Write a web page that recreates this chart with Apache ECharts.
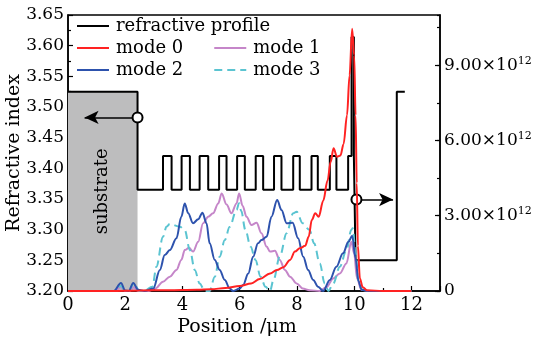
<!DOCTYPE html>
<html><head><meta charset="utf-8">
<script src="https://cdn.jsdelivr.net/npm/echarts@6/dist/echarts.min.js"></script>
<style>html,body{margin:0;padding:0;background:#fff}#c{width:536px;height:342px}</style>
</head><body><div id="c"></div>
<script>
const FONT = 'DejaVu Serif';
// refractive index profile [position um, index]
const profile = [[0,3.525],[2.43,3.525],[2.43,3.365],
 [3.32,3.365],[3.32,3.42],[3.62,3.42],[3.62,3.365],
 [3.97,3.365],[3.97,3.42],[4.26,3.42],[4.26,3.365],
 [4.60,3.365],[4.60,3.42],[4.90,3.42],[4.90,3.365],
 [5.28,3.365],[5.28,3.42],[5.54,3.42],[5.54,3.365],
 [5.91,3.365],[5.91,3.42],[6.18,3.42],[6.18,3.365],
 [6.56,3.365],[6.56,3.42],[6.82,3.42],[6.82,3.365],
 [7.20,3.365],[7.20,3.42],[7.46,3.42],[7.46,3.365],
 [7.87,3.365],[7.87,3.42],[8.10,3.42],[8.10,3.365],
 [8.51,3.365],[8.51,3.42],[8.73,3.42],[8.73,3.365],
 [9.15,3.365],[9.15,3.42],[9.38,3.42],[9.38,3.365],
 [9.79,3.365],[9.79,3.42],[9.91,3.42],[9.91,3.614],[9.99,3.614],[9.99,3.42],[10.05,3.42],[10.05,3.25],
 [11.49,3.25],[11.49,3.525],[11.77,3.525]];
// mode intensity (units of 1e12)
const mode0 = [[0,0],[1.5,0],[2.5,0.02],[3.5,0.03],[4.5,0.05],[5.0,0.07],[5.5,0.12],[6.0,0.2],[6.4,0.3],[6.7,0.48],[7.06,0.7],[7.3,0.84],[7.53,0.95],[7.76,1.24],[7.93,1.57],[8.1,1.7],[8.29,1.8],[8.41,2.16],[8.52,2.83],[8.64,3.1],[8.76,2.96],[8.92,3.6],[9.07,4.4],[9.18,5.15],[9.28,5.69],[9.4,5.35],[9.52,5.4],[9.63,5.85],[9.75,7.0],[9.84,8.6],[9.93,10.45],[10.0,9.4],[10.05,7.0],[10.09,4.3],[10.13,1.8],[10.2,0.5],[10.3,0.15],[10.45,0.03],[11,0],[12,0]];
const mode1 = [[0,0],[1.6,0],[1.85,0.15],[2.0,0],[2.15,0],[2.3,0.15],[2.45,0],[2.8,0],[3.05,0.1],[3.32,0.37],[3.56,0.57],[3.79,0.84],[3.96,1.24],[4.08,1.63],[4.23,1.72],[4.37,1.57],[4.55,1.96],[4.72,2.7],[4.9,2.96],[5.07,3.1],[5.25,3.49],[5.37,3.89],[5.54,3.45],[5.71,3.1],[5.89,3.49],[5.98,3.89],[6.1,3.4],[6.24,2.96],[6.41,2.63],[6.59,2.72],[6.76,2.3],[6.94,1.77],[7.06,1.57],[7.23,1.6],[7.4,1.24],[7.58,0.84],[7.76,0.57],[7.99,0.3],[8.2,0.1],[8.44,0.03],[8.8,0],[9.03,0.15],[9.27,0.5],[9.5,0.7],[9.73,1.1],[9.9,1.96],[10.0,1.5],[10.1,0.5],[10.25,0.05],[10.5,0],[12,0]];
const mode2 = [[0,0],[1.6,0],[1.85,0.32],[2.0,0.02],[2.12,0],[2.28,0.32],[2.45,0.05],[2.68,0],[2.98,0.1],[3.21,0.84],[3.38,1.43],[3.56,1.63],[3.79,2.1],[3.96,2.96],[4.08,3.49],[4.2,3.1],[4.37,2.7],[4.55,2.86],[4.7,3.12],[4.84,2.7],[4.95,1.9],[5.13,1.24],[5.3,0.84],[5.48,0.44],[5.65,0.1],[5.77,0],[6.0,0.1],[6.12,0.24],[6.3,0.7],[6.47,1.37],[6.64,1.9],[6.76,2.03],[6.94,2.16],[7.11,2.96],[7.31,3.63],[7.46,3.23],[7.64,2.7],[7.85,2.72],[8.04,2.1],[8.22,1.37],[8.39,0.84],[8.57,0.44],[8.74,0.17],[8.92,0],[9.15,0.44],[9.38,0.97],[9.61,1.5],[9.8,1.96],[9.93,2.2],[10.05,1.3],[10.15,0.4],[10.26,0.05],[10.5,0],[12,0]];
const mode3 = [[0,0],[1.6,0],[1.85,0.2],[2.0,0],[2.12,0],[2.3,0.3],[2.5,0],[2.65,0],[2.95,0.17],[3.09,0.97],[3.32,2.16],[3.44,2.56],[3.56,2.67],[3.91,2.56],[4.08,2.43],[4.26,1.63],[4.43,0.84],[4.6,0.3],[4.78,0],[4.95,0],[5.13,0.57],[5.3,1.37],[5.48,2.03],[5.65,2.56],[5.89,3.23],[5.98,3.5],[6.05,3.2],[6.2,2.43],[6.38,1.77],[6.55,1.24],[6.73,0.57],[6.9,0.17],[7.06,0],[7.18,0.44],[7.4,1.37],[7.64,2.3],[7.87,3.1],[7.99,3.16],[8.2,2.7],[8.44,2.43],[8.6,1.9],[8.8,1.1],[8.97,0.3],[9.1,0],[9.27,0.3],[9.5,0.97],[9.73,1.63],[9.9,2.43],[9.95,2.5],[10.05,1.5],[10.15,0.4],[10.3,0.05],[10.5,0],[12,0]];
const substrate = {x0: 0, x1: 2.43, n0: 3.2, n1: 3.525};
const arrowLeft = {from: [2.43, 3.483], to: [0.58, 3.483]};
const arrowRight = {from: [10.08, 3.349], to: [11.36, 3.349]};

const chart = echarts.init(document.getElementById('c'));
const txt = {fontFamily: FONT, color: '#000'};
const modeLine = (name, data, color, type, z) => ({
  name, type: 'line', data, yAxisIndex: 1, symbol: 'none', smooth: 0.35, smoothMonotone: 'x', z,
  lineStyle: {color, width: 2, type}, itemStyle: {color}
});
const legendBase = {left: 76, itemWidth: 32, itemHeight: 14, itemGap: 30, padding: 0,
  itemStyle: {opacity: 0},
  textStyle: Object.assign({fontSize: 18, padding: [0,0,0,2]}, txt)};
chart.setOption({
  animation: false,
  grid: {left: 68, right: 96, top: 15, bottom: 51, outerBoundsMode: 'none', containLabel: false,
    show: true, borderColor: '#000', borderWidth: 1.5, backgroundColor: 'transparent'},
  legend: [
    Object.assign({}, legendBase, {top: 17, data: ['refractive profile']}),
    Object.assign({}, legendBase, {top: 39, data: ['mode 0', 'mode 1']}),
    Object.assign({}, legendBase, {top: 61, data: ['mode 2', 'mode 3']})
  ],
  xAxis: {type: 'value', min: 0, max: 13, interval: 2,
    name: 'Position /μm', nameLocation: 'middle', nameGap: 27, nameMoveOverlap: false,
    nameTextStyle: Object.assign({fontSize: 19, padding: [0, 34, 0, 0]}, txt),
    axisLine: {lineStyle: {color: '#000', width: 1.5}},
    axisTick: {inside: true, length: 5, lineStyle: {color: '#000', width: 1.2}},
    minorTick: {show: true, splitNumber: 2, length: 3, lineStyle: {color: '#000', width: 1.2}},
    splitLine: {show: false},
    axisLabel: Object.assign({fontSize: 18, margin: 5, showMaxLabel: false}, txt)
  },
  yAxis: [
    {type: 'value', min: 3.2, max: 3.65, interval: 0.05, position: 'left',
      name: 'Refractive index', nameLocation: 'middle', nameGap: 44, nameMoveOverlap: false,
      nameTextStyle: Object.assign({fontSize: 19}, txt),
      axisLine: {lineStyle: {color: '#000', width: 1.5}},
      axisTick: {inside: true, length: 5, lineStyle: {color: '#000', width: 1.2}},
      minorTick: {show: true, splitNumber: 2, length: 3, lineStyle: {color: '#000', width: 1.2}},
      splitLine: {show: false},
      axisLabel: Object.assign({fontSize: 17, margin: 4, formatter: v => v.toFixed(2)}, txt)
    },
    {type: 'value', min: 0, max: 11, interval: 3, position: 'right',
      axisLine: {show: true, lineStyle: {color: '#000', width: 1.5}},
      axisTick: {inside: true, length: 5, lineStyle: {color: '#000', width: 1.2}},
      splitLine: {show: false},
      axisLabel: Object.assign({fontSize: 17, margin: 4, showMaxLabel: false,
        formatter: v => v === 0 ? '0' : (v % 3 === 0 ? '{a|' + v.toFixed(2) + '×10}{b|12}' : ''),
        rich: {a: Object.assign({fontSize: 17}, txt), b: Object.assign({fontSize: 11, padding: [0,0,9,0]}, txt)}}, txt)
    },
    {type: 'value', min: 0, max: 11, interval: 1.5, position: 'right',
      axisLine: {show: false}, axisLabel: {show: false}, splitLine: {show: false},
      axisTick: {inside: true, length: 3, lineStyle: {color: '#000', width: 1.2}}
    }
  ],
  series: [
    {name: 'refractive profile', type: 'line', data: profile, yAxisIndex: 0, symbol: 'none', z: 1,
      lineStyle: {color: '#000', width: 2}, itemStyle: {color: '#000'},
      markArea: {silent: true, itemStyle: {color: '#bdbdbe'},
        label: Object.assign({show: true, position: 'inside', rotate: 90, fontSize: 18}, txt),
        data: [[{name: 'substrate', coord: [substrate.x0, substrate.n0]}, {coord: [substrate.x1, substrate.n1]}]]},
      markLine: {silent: true, symbol: ['emptyCircle', 'arrow'], symbolSize: [10, 14],
        lineStyle: {color: '#000', width: 1.5, type: 'solid'}, label: {show: false},
        itemStyle: {color: '#000', borderWidth: 2},
        data: [[{coord: arrowLeft.from}, {coord: arrowLeft.to}], [{coord: arrowRight.from}, {coord: arrowRight.to}]]}
    },
    modeLine('mode 1', mode1, '#c586c9', 'solid', 2),
    modeLine('mode 3', mode3, '#5bc4d1', [8, 5], 3),
    modeLine('mode 2', mode2, '#2d52ad', 'solid', 4),
    modeLine('mode 0', mode0, '#ff2222', 'solid', 5)
  ]
});
</script></body></html>
